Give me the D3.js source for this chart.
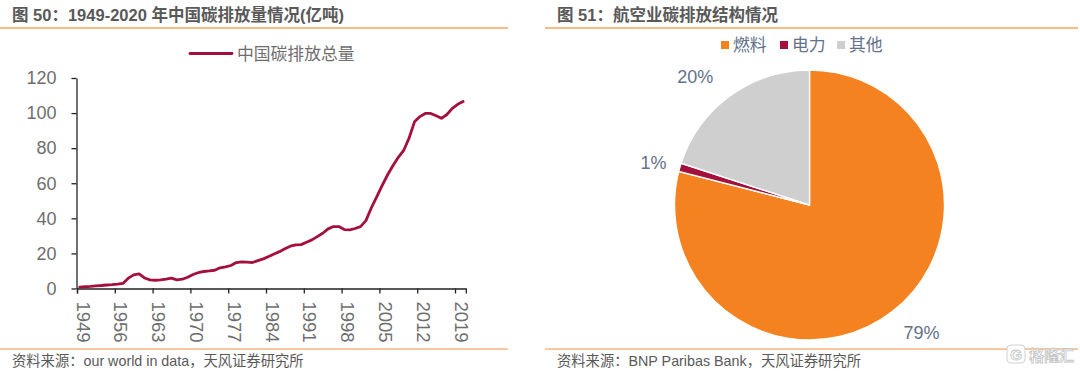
<!DOCTYPE html>
<html>
<head>
<meta charset="utf-8">
<script src="https://cdn.jsdelivr.net/npm/d3@7"></script>
<style>
    body { margin: 0; background: #fff; }
    text { font-family: "Liberation Sans", "Noto Sans CJK SC", sans-serif; }
</style>
</head>
<body>
<script>
// Line chart data
const years = d3.range(1949, 2021);
const emissions = [
    0.8, 1.0, 1.2, 1.5, 1.7, 2.0, 2.2, 2.5, 2.9, 5.9, 7.8, 8.3, 6.0, 4.9, 4.7, 4.9, 5.3, 5.9,
    4.9, 5.3, 6.4, 8.0, 9.1, 9.7, 10.0, 10.4, 11.8, 12.3, 13.1, 14.8, 15.2, 15.0, 14.8, 15.9,
    16.9, 18.2, 19.7, 21.0, 22.6, 24.1, 24.9, 25.0, 26.4, 27.7, 29.6, 31.5, 34.0, 35.3, 35.3,
    33.6, 33.4, 34.2, 35.3, 38.7, 45.9, 52.2, 58.6, 64.7, 70.0, 74.8, 78.7, 85.8, 95.0, 98.0,
    99.8, 99.8, 98.5, 97.0, 99.2, 102.7, 105.0, 106.6
];
const yearTicks = [1949, 1956, 1963, 1970, 1977, 1984, 1991, 1998, 2005, 2012, 2019];
const valueTicks = [0, 20, 40, 60, 80, 100, 120];

// Pie data
const shareNames = ["燃料", "电力", "其他"];
const shareValues = [79, 1, 20];
const shareLabels = ["79%", "1%", "20%"];
const shareColors = ["#f58220", "#a50f3c", "#d0cfd0"];

const svg = d3.select("body").append("svg").attr("width", 1080).attr("height", 371);

// Headers and footers
const grey = "#595959";
function frame(x1, x2, title, titleX, source, sourceX) {
    svg.append("text").attr("x", titleX).attr("y", 21)
        .attr("font-size", 16.5).attr("font-weight", "bold").attr("fill", grey).text(title);
    svg.append("line").attr("x1", x1).attr("x2", x2).attr("y1", 28).attr("y2", 28)
        .attr("stroke", "#f9a35e").attr("stroke-width", 1.5);
    svg.append("line").attr("x1", x1).attr("x2", x2).attr("y1", 349).attr("y2", 349)
        .attr("stroke", "#f58f3f").attr("stroke-width", 1);
    svg.append("text").attr("x", sourceX).attr("y", 366)
        .attr("font-size", 14.3).attr("fill", grey).text(source);
}
frame(0, 508, "图 50：1949-2020 年中国碳排放量情况(亿吨)", 12, "资料来源：our world in data，天风证券研究所", 12);
frame(545, 1078, "图 51：航空业碳排放结构情况", 557, "资料来源：BNP Paribas Bank，天风证券研究所", 557);

// Line chart
const x = d3.scaleLinear().domain([1949, 2021]).range([77, 465.8]);
const y = d3.scaleLinear().domain([0, 120]).range([288.5, 78]);

const xAxisGroup = svg.append("g")
    .attr("transform", "translate(0,288.5)")
    .call(d3.axisBottom(x).tickValues(yearTicks).tickFormat(d3.format("d")).tickSizeOuter(0).tickSize(5));
const yAxisGroup = svg.append("g")
    .attr("transform", "translate(76.5,0)")
    .call(d3.axisLeft(y).tickValues(valueTicks).tickSize(5).tickSizeOuter(0));

[xAxisGroup, yAxisGroup].forEach(g => {
    g.selectAll("path,line").attr("stroke", "#222").attr("stroke-width", 1.3);
    g.selectAll("text").attr("font-size", 18).attr("fill", "#6e6e6e");
});
yAxisGroup.selectAll("text").attr("x", -20);
xAxisGroup.selectAll("text")
    .attr("transform", "rotate(90)")
    .attr("text-anchor", "start")
    .attr("font-size", 18.5)
    .attr("x", 13)
    .attr("y", 1)
    .attr("dy", 0);

const line = d3.line()
    .x((d, i) => x(years[i] + 0.5))
    .y(d => y(d));

svg.append("path").datum(emissions)
    .attr("fill", "none")
    .attr("stroke", "#a50f3c")
    .attr("stroke-width", 2.8)
    .attr("stroke-linejoin", "round")
    .attr("stroke-linecap", "round")
    .attr("d", line);

// Line legend
svg.append("line").attr("x1", 190).attr("x2", 232).attr("y1", 53.5).attr("y2", 53.5)
    .attr("stroke", "#a50f3c").attr("stroke-width", 2.8).attr("stroke-linecap", "round");
svg.append("text").attr("x", 237).attr("y", 60)
    .attr("font-size", 16.8).attr("fill", "#6e6e6e").text("中国碳排放总量");

// Pie
const pieGroup = svg.append("g").attr("transform", "translate(809.5,205)");
const arcs = d3.pie().sort(null)(shareValues);
const arc = d3.arc().innerRadius(0).outerRadius(135);

pieGroup.selectAll("path").data(arcs).enter().append("path")
    .attr("d", arc)
    .attr("fill", (d, i) => shareColors[i])
    .attr("stroke", "#fff")
    .attr("stroke-width", 1.4);

// Pie labels sit outside the slices
const labelArc = d3.arc().innerRadius(150).outerRadius(150);
const labelShift = [[20, 9], [-12, 0], [-26, -7]];
pieGroup.selectAll("text.share").data(arcs).enter().append("text")
    .attr("class", "share")
    .attr("transform", (d, i) => {
        const c = labelArc.centroid(d);
        return `translate(${c[0] + labelShift[i][0]},${c[1] + labelShift[i][1]})`;
    })
    .attr("text-anchor", "middle")
    .attr("dy", "0.35em")
    .attr("font-size", 18)
    .attr("fill", "#63718a")
    .text((d, i) => shareLabels[i]);

// Pie legend
const legendX = [721, 780, 837];
shareNames.forEach((name, i) => {
    svg.append("rect").attr("x", legendX[i]).attr("y", 41).attr("width", 8).attr("height", 8)
        .attr("fill", shareColors[i]);
    svg.append("text").attr("x", legendX[i] + 12).attr("y", 51)
        .attr("font-size", 16.8).attr("fill", "#63718a").text(name);
});

// Watermark
const mark = svg.append("g").attr("fill", "#fff").attr("stroke", "#c4c4c4").attr("stroke-width", 0.8);
mark.append("rect").attr("x", 1007).attr("y", 345).attr("width", 18).attr("height", 18).attr("rx", 4);
mark.append("text").attr("x", 1016).attr("y", 360).attr("text-anchor", "middle")
    .attr("font-size", 15).attr("font-weight", "bold").text("G");
mark.append("text").attr("x", 1029).attr("y", 361)
    .attr("font-size", 15).attr("font-weight", "bold").text("格隆汇");
</script>
</body>
</html>
